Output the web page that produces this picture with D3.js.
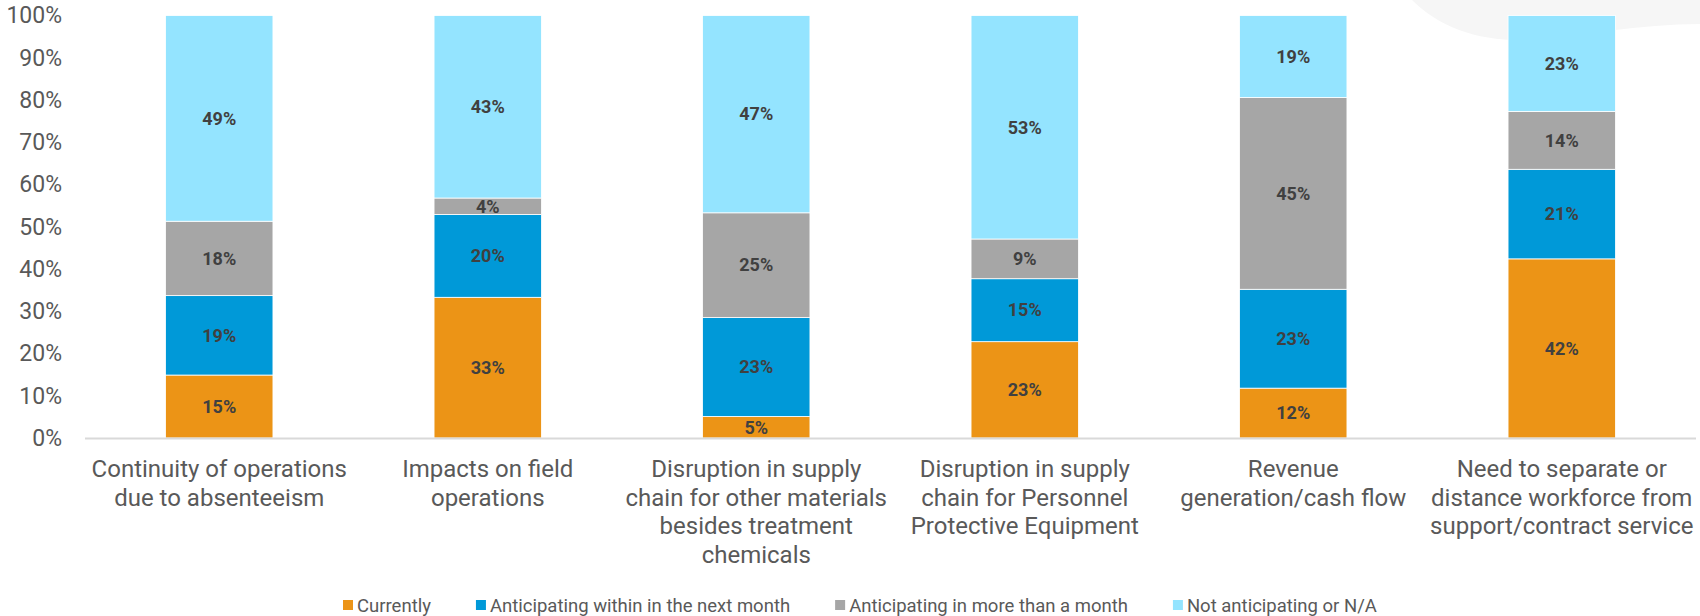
<!DOCTYPE html>
<html>
<head>
<meta charset="utf-8">
<script src="https://cdnjs.cloudflare.com/ajax/libs/d3/7.8.5/d3.min.js"></script>
<style>
    body { margin: 0; background: #fff; }
    svg text { font-family: Roboto, "Noto Sans", sans-serif; }
</style>
</head>
<body>
<div id="chart"></div>
<script>
// categories, one entry per line of the axis label
var categories = [
    ["Continuity of operations", "due to absenteeism"],
    ["Impacts on field", "operations"],
    ["Disruption in supply", "chain for other materials", "besides treatment", "chemicals"],
    ["Disruption in supply", "chain for Personnel", "Protective Equipment"],
    ["Revenue", "generation/cash flow"],
    ["Need to separate or", "distance workforce from", "support/contract service"]
];
var seriesNames = ["Currently", "Anticipating within in the next month", "Anticipating in more than a month", "Not anticipating or N/A"];
var currently = [14.9, 33.3, 5.1, 22.8, 11.8, 42.4];
var nextMonth = [18.8, 19.6, 23.4, 14.9, 23.4, 21.2];
var moreThanMonth = [17.6, 3.9, 24.8, 9.4, 45.4, 13.7];
var notAnticipating = [48.7, 43.2, 46.7, 52.9, 19.4, 22.7];
var yTicks = [0, 10, 20, 30, 40, 50, 60, 70, 80, 90, 100];
var colors = ["#ec9416", "#0099d8", "#a6a6a6", "#94e4ff"];

var W = 1700, H = 616;
var margin = { top: 15.5, left: 85, right: 4, bottom: 178 };

var svg = d3.select("#chart").append("svg")
    .attr("width", W)
    .attr("height", H);

// faint background blob in the top right corner
svg.append("path")
    .attr("d", "M1412,0 C1440,28 1480,42 1530,40 C1580,36 1640,24 1700,24 L1700,0 Z")
    .attr("fill", "#f6f6f6");

var keys = ["c", "n", "m", "o"];
var table = categories.map(function(c, i) {
    return { idx: i, c: currently[i], n: nextMonth[i], m: moreThanMonth[i], o: notAnticipating[i] };
});
var stacked = d3.stack().keys(keys)(table);

var x = d3.scaleBand()
    .domain(d3.range(categories.length))
    .range([margin.left, W - margin.right])
    .paddingInner(0.6)
    .paddingOuter(0.3);

var y = d3.scaleLinear()
    .domain([0, 100])
    .range([438, margin.top]);

// y axis labels
var yAxis = d3.axisLeft(y)
    .tickValues(yTicks)
    .tickSize(0)
    .tickPadding(0)
    .tickFormat(function(d) { return d + "%"; });

svg.append("g")
    .attr("transform", "translate(62,0)")
    .call(yAxis)
    .call(function(g) { g.select(".domain").remove(); })
    .selectAll("text")
    .attr("fill", "#595959")
    .style("font-size", "23px");

// bars
var layers = svg.append("g").selectAll("g")
    .data(stacked).enter()
    .append("g")
    .attr("fill", function(d, i) { return colors[i]; });

layers.selectAll("rect")
    .data(function(d) { return d; }).enter()
    .append("rect")
    .attr("x", function(d) { return x(d.data.idx); })
    .attr("width", x.bandwidth())
    .attr("y", function(d) { return y(d[1]); })
    .attr("height", function(d) { return y(d[0]) - y(d[1]); })
    .attr("stroke", "#fff")
    .attr("stroke-width", 0.8);

// value labels
layers.selectAll("text")
    .data(function(d) { return d; }).enter()
    .append("text")
    .attr("x", function(d) { return x(d.data.idx) + x.bandwidth() / 2; })
    .attr("y", function(d) { return (y(d[0]) + y(d[1])) / 2; })
    .attr("dy", "0.35em")
    .attr("text-anchor", "middle")
    .attr("fill", "#404040")
    .style("font-size", "18px")
    .style("font-weight", "bold")
    .text(function(d) { return Math.round(d[1] - d[0]) + "%"; });

// baseline
svg.append("line")
    .attr("x1", margin.left)
    .attr("x2", W - margin.right)
    .attr("y1", y(0) + 0.5)
    .attr("y2", y(0) + 0.5)
    .attr("stroke", "#d9d9d9")
    .attr("stroke-width", 2);

// category labels
var catLabels = svg.append("g").selectAll("text")
    .data(categories).enter()
    .append("text")
    .attr("text-anchor", "middle")
    .attr("fill", "#595959")
    .style("font-size", "24px")
    .attr("transform", function(d, i) {
        return "translate(" + (x(i) + x.bandwidth() / 2) + ",477)";
    });

catLabels.selectAll("tspan")
    .data(function(d) { return d; }).enter()
    .append("tspan")
    .attr("x", 0)
    .attr("y", function(d, i) { return i * 28.7; })
    .text(function(d) { return d; });

// legend
var legend = svg.append("g");
var lx = 343;
seriesNames.forEach(function(name, i) {
    legend.append("rect")
        .attr("x", lx)
        .attr("y", 600)
        .attr("width", 10)
        .attr("height", 10)
        .attr("fill", colors[i]);
    var t = legend.append("text")
        .attr("x", lx + 14)
        .attr("y", 611.5)
        .attr("fill", "#595959")
        .style("font-size", "18.5px")
        .text(name);
    lx += 14 + t.node().getComputedTextLength() + 45;
});
</script>
</body>
</html>
